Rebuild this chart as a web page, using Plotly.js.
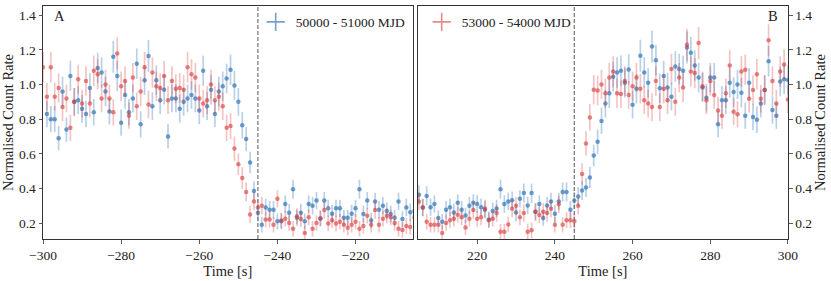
<!DOCTYPE html>
<html>
<head>
<meta charset="utf-8">
<script src="https://cdn.plot.ly/plotly-3.0.1.min.js"></script>
<style>html,body{margin:0;padding:0;background:#fff;}#chart{width:831px;height:281px;}</style>
</head>
<body>
<div id="chart"></div>
<script>
// ---- data ----
const timeLeft = [-300,-299,-298,-297,-296,-295,-294,-293,-292,-291,-290,-289,-288,-287,-286,-285,-284,-283,-282,-281,-280,-279,-278,-277,-276,-275,-274,-273,-272,-271,-270,-269,-268,-267,-266,-265,-264,-263,-262,-261,-260,-259,-258,-257,-256,-255,-254,-253,-252,-251,-250,-249,-248,-247,-246,-245,-244,-243,-242,-241,-240,-239,-238,-237,-236,-235,-234,-233,-232,-231,-230,-229,-228,-227,-226,-225,-224,-223,-222,-221,-220,-219,-218,-217,-216,-215,-214,-213,-212,-211,-210,-209,-208,-207,-206,-205];
const timeRight = [205,206,207,208,209,210,211,212,213,214,215,216,217,218,219,220,221,222,223,224,225,226,227,228,229,230,231,232,233,234,235,236,237,238,239,240,241,242,243,244,245,246,247,248,249,250,251,252,253,254,255,256,257,258,259,260,261,262,263,264,265,266,267,268,269,270,271,272,273,274,275,276,277,278,279,280,281,282,283,284,285,286,287,288,289,290,291,292,293,294,295,296,297,298,299,300];

const blueLeft = [null,0.83,0.80,0.80,0.69,0.96,0.74,1.05,0.90,0.91,0.86,0.83,0.98,0.84,1.095,1.07,0.96,0.845,1.16,1.05,0.78,0.94,0.84,0.92,1.12,0.77,1.025,1.165,0.875,1.025,0.91,0.97,0.70,0.92,0.92,0.86,0.90,0.92,0.94,0.92,0.85,1.08,0.875,0.97,0.83,0.96,0.99,1.035,1.085,0.995,0.90,0.765,0.685,0.55,0.385,0.26,0.19,0.29,0.277,0.277,0.21,0.21,0.31,0.26,0.395,0.23,0.26,0.21,0.31,0.30,0.33,0.227,0.33,0.285,0.254,0.285,0.285,0.23,0.23,0.254,0.285,0.395,0.252,0.33,0.215,0.325,0.277,0.30,0.27,0.252,0.23,0.325,0.223,0.29,0.263,0.27];
const blueLeftErr = [null,0.076,0.076,0.076,0.07,0.085,0.07,0.088,0.08,0.08,0.08,0.076,0.085,0.076,0.088,0.088,0.085,0.076,0.092,0.088,0.076,0.08,0.076,0.08,0.088,0.076,0.085,0.092,0.08,0.085,0.08,0.085,0.07,0.08,0.08,0.08,0.08,0.08,0.08,0.08,0.08,0.088,0.08,0.085,0.076,0.085,0.085,0.085,0.088,0.085,0.08,0.076,0.07,0.062,0.055,0.05,0.045,0.05,0.05,0.05,0.045,0.045,0.05,0.05,0.055,0.045,0.05,0.045,0.05,0.05,0.05,0.045,0.05,0.05,0.05,0.05,0.05,0.045,0.045,0.05,0.05,0.055,0.05,0.05,0.045,0.05,0.05,0.05,0.05,0.05,0.045,0.05,0.045,0.05,0.05,0.05];
const redLeft = [1.10,0.93,1.10,0.93,0.98,0.87,0.92,0.75,0.90,1.03,0.89,1.02,0.89,1.08,1.06,0.92,1.00,0.92,0.84,1.18,0.99,1.02,0.82,1.04,0.875,0.96,1.10,0.885,1.07,0.99,0.98,1.05,0.91,1.02,0.975,0.98,0.97,1.10,1.06,1.04,0.92,0.89,0.91,1.00,0.91,0.93,0.875,0.75,0.76,0.63,0.54,0.46,0.38,0.25,0.325,0.29,0.30,0.22,0.22,0.19,0.34,0.215,0.225,0.20,0.167,0.24,0.223,0.142,0.233,0.167,0.20,0.227,0.275,0.198,0.217,0.198,0.208,0.19,0.173,0.19,0.208,0.167,0.183,0.242,0.19,0.275,0.19,0.225,0.242,0.233,0.20,0.167,0.16,0.183,0.177,0.233];
const redLeftErr = [0.088,0.08,0.088,0.08,0.085,0.08,0.08,0.076,0.08,0.085,0.08,0.085,0.08,0.088,0.088,0.08,0.085,0.08,0.076,0.092,0.085,0.085,0.076,0.085,0.08,0.085,0.088,0.08,0.088,0.085,0.085,0.088,0.08,0.085,0.085,0.085,0.085,0.088,0.088,0.085,0.08,0.08,0.08,0.085,0.08,0.08,0.08,0.076,0.076,0.07,0.062,0.062,0.055,0.05,0.05,0.05,0.05,0.045,0.045,0.045,0.05,0.045,0.045,0.045,0.045,0.045,0.045,0.045,0.045,0.045,0.045,0.045,0.05,0.045,0.045,0.045,0.045,0.045,0.045,0.045,0.045,0.045,0.045,0.045,0.045,0.05,0.045,0.045,0.045,0.045,0.045,0.045,0.045,0.045,0.045,0.045];

const blueRight = [0.363,0.29,0.357,0.292,0.31,0.229,0.208,0.277,0.292,0.261,0.317,0.277,0.244,0.30,0.317,0.31,0.292,0.277,0.221,0.269,0.284,0.396,0.31,0.325,0.332,0.261,0.34,0.373,0.302,0.373,0.265,0.31,0.229,0.302,0.325,0.254,0.325,0.38,0.38,0.277,0.33,0.354,0.388,0.405,0.463,0.59,0.67,0.79,0.89,0.95,1.045,1.07,1.08,1.01,1.087,0.884,0.976,1.166,1.07,1.01,1.22,1.14,0.978,1.05,0.983,0.93,1.104,1.09,1.08,1.214,1.183,1.11,1.04,0.983,0.924,1.04,1.04,0.77,0.91,0.91,1.01,0.957,1.0,0.953,0.82,1.01,0.813,0.797,0.89,0.968,1.135,0.853,0.82,1.018,1.03,1.026];
const blueRightErr = [0.055,0.05,0.055,0.05,0.05,0.045,0.045,0.05,0.05,0.05,0.05,0.05,0.045,0.05,0.05,0.05,0.05,0.05,0.045,0.05,0.05,0.055,0.05,0.05,0.05,0.05,0.05,0.055,0.05,0.055,0.05,0.05,0.045,0.05,0.05,0.05,0.05,0.055,0.055,0.05,0.05,0.055,0.055,0.055,0.062,0.062,0.07,0.076,0.08,0.085,0.085,0.088,0.088,0.085,0.088,0.08,0.085,0.092,0.088,0.085,0.092,0.088,0.085,0.088,0.085,0.08,0.088,0.088,0.088,0.092,0.092,0.088,0.085,0.085,0.08,0.085,0.085,0.076,0.08,0.08,0.085,0.085,0.085,0.085,0.076,0.085,0.076,0.076,0.08,0.085,0.088,0.08,0.076,0.085,0.085,0.085];
const redRight = [0.325,0.29,0.208,0.19,0.19,0.19,0.142,0.20,0.217,0.225,0.248,0.233,0.175,0.225,0.275,0.225,0.233,0.284,0.217,0.225,0.258,0.15,0.15,0.192,0.283,0.30,0.233,0.258,0.15,0.158,0.265,0.246,0.265,0.258,0.283,0.19,0.308,0.19,0.217,0.217,0.21,0.30,0.484,0.66,0.81,0.97,0.966,1.0,0.95,1.04,1.075,0.95,0.945,1.02,0.94,0.99,1.04,0.976,0.91,0.89,0.87,1.02,0.87,0.976,0.91,1.09,0.90,1.04,0.983,1.23,1.075,1.066,1.24,0.99,0.91,1.02,0.94,0.85,0.82,0.95,1.11,0.843,0.828,1.075,1.085,0.918,0.968,1.06,0.918,0.968,1.256,1.02,0.89,1.075,1.116,0.914];
const redRightErr = [0.05,0.05,0.045,0.045,0.045,0.045,0.045,0.045,0.045,0.045,0.045,0.045,0.045,0.045,0.05,0.045,0.045,0.05,0.045,0.045,0.05,0.045,0.045,0.045,0.05,0.05,0.045,0.05,0.045,0.045,0.05,0.045,0.05,0.05,0.05,0.045,0.05,0.045,0.045,0.045,0.045,0.05,0.062,0.07,0.076,0.085,0.085,0.085,0.085,0.085,0.088,0.085,0.08,0.085,0.08,0.085,0.085,0.085,0.08,0.08,0.08,0.085,0.08,0.085,0.08,0.088,0.08,0.085,0.085,0.092,0.088,0.088,0.092,0.085,0.08,0.085,0.08,0.08,0.076,0.085,0.088,0.076,0.076,0.088,0.088,0.08,0.085,0.088,0.08,0.085,0.092,0.085,0.08,0.088,0.088,0.08];

const seriesNames = ['50000 - 51000 MJD', '53000 - 54000 MJD'];
const eventTimes = [-245, 245];
const xTicksLeft = [-300, -280, -260, -240, -220];
const xTicksRight = [220, 240, 260, 280, 300];
const yTicks = [0.2, 0.4, 0.6, 0.8, 1.0, 1.2, 1.4];
const panelLabels = ['A', 'B'];

// ---- styles ----
const BLUE_PT = 'rgba(55,120,185,0.72)', BLUE_ERR = 'rgba(55,120,185,0.35)';
const RED_PT = 'rgba(214,60,60,0.62)', RED_ERR = 'rgba(214,60,60,0.3)';
const FONT = '"Liberation Serif", "Times New Roman", serif';
const AX = '#333';
const TICK_SIZE = 13.5, TITLE_SIZE = 14.5, LEG_SIZE = 13.5;

function series(x, y, err, ptColor, errColor, xa, ya) {
  return {
    type: 'scatter', mode: 'markers', x: x, y: y, xaxis: xa, yaxis: ya,
    showlegend: false, hoverinfo: 'skip',
    marker: {size: 4.5, color: ptColor, line: {width: 0}},
    error_y: {type: 'data', array: err, visible: true, thickness: 1.7, width: 0, color: errColor}
  };
}

const traces = [
  series(timeLeft, blueLeft, blueLeftErr, BLUE_PT, BLUE_ERR, 'x', 'y'),
  series(timeLeft, redLeft, redLeftErr, RED_PT, RED_ERR, 'x', 'y'),
  series(timeRight, blueRight, blueRightErr, BLUE_PT, BLUE_ERR, 'x2', 'y2'),
  series(timeRight, redRight, redRightErr, RED_PT, RED_ERR, 'x2', 'y2'),
  {type: 'scatter', mode: 'markers', x: [null], y: [null], xaxis: 'x', yaxis: 'y',
   name: seriesNames[0], legend: 'legend', showlegend: true,
   marker: {symbol: 'cross-thin-open', size: 13, color: 'rgba(55,120,185,0.7)', line: {width: 1.6, color: 'rgba(55,120,185,0.7)'}}},
  {type: 'scatter', mode: 'markers', x: [null], y: [null], xaxis: 'x2', yaxis: 'y2',
   name: seriesNames[1], legend: 'legend2', showlegend: true,
   marker: {symbol: 'cross-thin-open', size: 13, color: 'rgba(214,60,60,0.6)', line: {width: 1.6, color: 'rgba(214,60,60,0.6)'}}}
];

const yRange = [0.108, 1.4536];
const baseAxis = {
  showgrid: false, zeroline: false, showline: true, mirror: true,
  linecolor: AX, linewidth: 1, ticks: 'outside', ticklen: 3.5, tickwidth: 0.8, tickcolor: AX,
  tickfont: {family: FONT, size: TICK_SIZE, color: '#222'}
};
const titleFont = {family: FONT, size: TITLE_SIZE, color: '#222'};

const layout = {
  width: 831, height: 281,
  margin: {l: 43, r: 43, t: 6, b: 42, pad: 0},
  paper_bgcolor: '#fff', plot_bgcolor: '#fff',
  font: {family: FONT, size: TICK_SIZE, color: '#222'},
  xaxis: Object.assign({}, baseAxis, {domain: [0, 0.4961], range: [-300, -205.4], tickvals: xTicksLeft,
    anchor: 'y', title: {text: 'Time [s]', font: titleFont, standoff: 2}}),
  yaxis: Object.assign({}, baseAxis, {domain: [0, 1], range: yRange, tickvals: yTicks, tickformat: '.1f',
    anchor: 'x', title: {text: 'Normalised Count Rate', font: titleFont, standoff: 5}}),
  xaxis2: Object.assign({}, baseAxis, {domain: [0.503, 1], range: [204.7, 300], tickvals: xTicksRight,
    anchor: 'y2', title: {text: 'Time [s]', font: titleFont, standoff: 2}}),
  yaxis2: Object.assign({}, baseAxis, {domain: [0, 1], range: yRange, tickvals: yTicks, tickformat: '.1f',
    anchor: 'x2', side: 'right', title: {text: 'Normalised Count Rate', font: titleFont, standoff: 3}}),
  legend: {x: 0.2855, xanchor: 'left', y: 0.931, yanchor: 'middle', bgcolor: 'rgba(0,0,0,0)',
    font: {family: FONT, size: LEG_SIZE, color: '#222'}},
  legend2: {x: 0.5083, xanchor: 'left', y: 0.931, yanchor: 'middle', bgcolor: 'rgba(0,0,0,0)',
    font: {family: FONT, size: LEG_SIZE, color: '#222'}},
  shapes: [
    {type: 'line', xref: 'x', yref: 'y domain', x0: eventTimes[0], x1: eventTimes[0], y0: 0, y1: 1,
     line: {color: 'rgba(110,110,110,0.9)', width: 1.3, dash: '4px,2px'}},
    {type: 'line', xref: 'x2', yref: 'y2 domain', x0: eventTimes[1], x1: eventTimes[1], y0: 0, y1: 1,
     line: {color: 'rgba(110,110,110,0.9)', width: 1.3, dash: '4px,2px'}}
  ],
  annotations: [
    {text: panelLabels[0], xref: 'x domain', yref: 'y domain', x: 0.0446, y: 0.956,
     xanchor: 'center', yanchor: 'middle', showarrow: false, font: {family: FONT, size: 14.5, color: '#222'}},
    {text: panelLabels[1], xref: 'x2 domain', yref: 'y2 domain', x: 0.959, y: 0.956,
     xanchor: 'center', yanchor: 'middle', showarrow: false, font: {family: FONT, size: 14.5, color: '#222'}}
  ]
};

Plotly.newPlot('chart', traces, layout, {staticPlot: true, displayModeBar: false});
</script>
</body>
</html>
